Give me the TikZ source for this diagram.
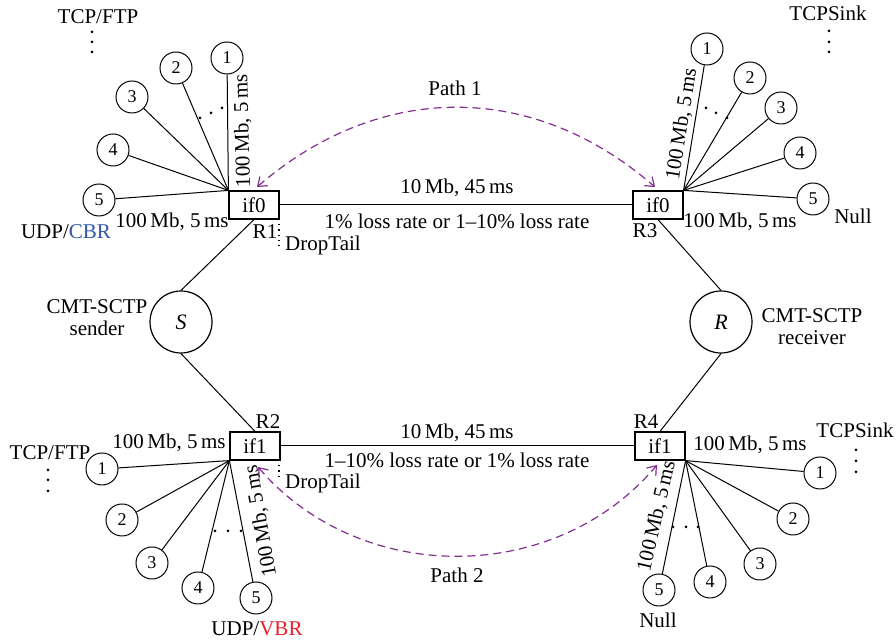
\documentclass[tikz,border=0pt]{standalone}
\usepackage{fontspec}
\setmainfont{Liberation Serif}
\usetikzlibrary{arrows.meta}
\definecolor{pathpurple}{RGB}{130,45,145}
\definecolor{cbrblue}{RGB}{50,85,170}
\definecolor{vbrred}{RGB}{235,30,40}
\begin{document}
\begin{tikzpicture}[x=0.5pt,y=-0.5pt,
  font=\fontsize{10.5}{12}\selectfont,
  link/.style={line width=0.5pt},
  router/.style={draw,line width=0.6pt,minimum width=25pt,minimum height=14pt,inner sep=0pt},
  host/.style={draw,circle,line width=0.5pt,minimum size=16pt,inner sep=0pt,font=\fontsize{9}{10}\selectfont},
  agent/.style={draw,circle,line width=0.6pt,minimum size=31pt,inner sep=0pt,font=\fontsize{11}{12}\selectfont\itshape},
  lbl/.style={inner sep=0pt},
  pathline/.style={pathpurple,dash pattern=on 4pt off 2.5pt,line width=0.6pt,
    {Straight Barb[length=4pt,width=6pt]}-{Straight Barb[length=4pt,width=6pt]}},
  queue/.style={dotted,line width=0.6pt}
]
\useasboundingbox (0,0) rectangle (896,640);

% routers
\node[router] (R1) at (254,205) {if0};
\node[router] (R3) at (658,205) {if0};
\node[router] (R2) at (255,446) {if1};
\node[router] (R4) at (660,446) {if1};
\node[lbl] (R1l) at (265,232) {R1};
\node[lbl] (R3l) at (645,231) {R3};
\node[lbl] (R2l) at (268,422) {R2};
\node[lbl] (R4l) at (646,422) {R4};

% CMT-SCTP end points
\node[agent] (S) at (181,322) {S};
\node[agent] (R) at (721,322) {R};
\node[lbl,align=center] (Sl) at (97,318) {CMT-SCTP\\[-1pt]sender};
\node[lbl,align=center] (Rl) at (812,327) {CMT-SCTP\\[-1pt]receiver};
\draw[link] (S.north) -- (R1.south);
\draw[link] (S.south) -- (R2.north);
\draw[link] (R.north) -- (R3.south);
\draw[link] (R.south) -- (R4.north);

% bottleneck links
\draw[link] (R1.east) -- (R3.west);
\draw[link] (R2.east) -- (R4.west);
\node[lbl] (b1a) at (457,188) {10\,Mb, 45\,ms};
\node[lbl] (b1b) at (457,221) {1\% loss rate or 1--10\% loss rate};
\node[lbl] (b2a) at (457,433) {10\,Mb, 45\,ms};
\node[lbl] (b2b) at (457,460) {1--10\% loss rate or 1\% loss rate};

% DropTail queues
\coordinate (q1a) at (279,219);
\coordinate (q1b) at (279,250);
\coordinate (q2a) at (279,460);
\coordinate (q2b) at (279,480);
\draw[queue] (q1a) -- (q1b);
\draw[queue] (q2a) -- (q2b);
\node[lbl] (dt1) at (323,245) {DropTail};
\node[lbl] (dt2) at (323,483) {DropTail};

% paths
\coordinate (p1a) at (257,187);
\coordinate (p1b) at (655,187);
\coordinate (p2a) at (258,467);
\coordinate (p2b) at (657,465);
\draw[pathline] (p1a) .. controls (380,81) and (533,81) .. (p1b);
\draw[pathline] (p2a) .. controls (360,586) and (555,586) .. (p2b);
\node[lbl] (P1) at (455,88) {Path 1};
\node[lbl] (P2) at (457,575) {Path 2};

% sources at R1
\foreach \i/\x/\y in {1/227/58, 2/176/68, 3/132/97, 4/113/150, 5/99/200}{
  \node[host] (tl\i) at (\x,\y) {\i};
  \draw[link] (tl\i) -- (R1.north west);
}
\node[lbl,rotate=91.5] (tlbw) at (243,131) {100\,Mb, 5\,ms};
\node[lbl] (tlbw5) at (172,222) {100\,Mb, 5\,ms};
\node[lbl] (tltcp) at (98,17) {TCP/FTP};
\node[lbl] (tludp) at (66,232) {UDP/\textcolor{cbrblue}{CBR}};
\foreach \p in {(200,118),(211,113),(222,108),(92,32),(92,42),(92,52)}
  \fill \p circle (0.75pt);

% sinks at R3
\foreach \i/\x/\y in {1/707/49, 2/750/78, 3/781/108, 4/800/153, 5/813/199}{
  \node[host] (tr\i) at (\x,\y) {\i};
  \draw[link] (tr\i) -- (R3.north east);
}
\node[lbl,rotate=81] (trbw) at (682,124) {100\,Mb, 5\,ms};
\node[lbl] (trbw5) at (740,222) {100\,Mb, 5\,ms};
\node[lbl] (trsink) at (828,13) {TCPSink};
\node[lbl] (trnull) at (853,216) {Null};
\foreach \p in {(706,108),(716,113),(727,118),(829,31),(829,42),(829,52)}
  \fill \p circle (0.75pt);

% sources at R2
\foreach \i/\x/\y in {1/102/469, 2/122/520, 3/152/563, 4/198/588, 5/256/598}{
  \node[host] (bl\i) at (\x,\y) {\i};
  \draw[link] (bl\i) -- (R2.south west);
}
\node[lbl,rotate=100] (blbw) at (261,521) {100\,Mb, 5\,ms};
\node[lbl] (blbw1) at (169,443) {100\,Mb, 5\,ms};
\node[lbl] (bltcp) at (50,453) {TCP/FTP};
\node[lbl] (bludp) at (257,629) {UDP/\textcolor{vbrred}{VBR}};
\foreach \p in {(215,531),(228,531),(241,531),(48,470),(48,480),(48,491)}
  \fill \p circle (0.75pt);

% sinks at R4
\foreach \i/\x/\y in {1/820/473, 2/793/519, 3/760/564, 4/710/582, 5/659/590}{
  \node[host] (br\i) at (\x,\y) {\i};
  \draw[link] (br\i) -- (R4.south east);
}
\node[lbl,rotate=77] (brbw) at (657,516) {100\,Mb, 5\,ms};
\node[lbl] (brbw1) at (750,445) {100\,Mb, 5\,ms};
\node[lbl] (brsink) at (855,430) {TCPSink};
\node[lbl] (brnull) at (658,620) {Null};
\foreach \p in {(673,527),(686,527),(698,527),(856,450),(856,461),(856,472)}
  \fill \p circle (0.75pt);
\end{tikzpicture}
\end{document}
